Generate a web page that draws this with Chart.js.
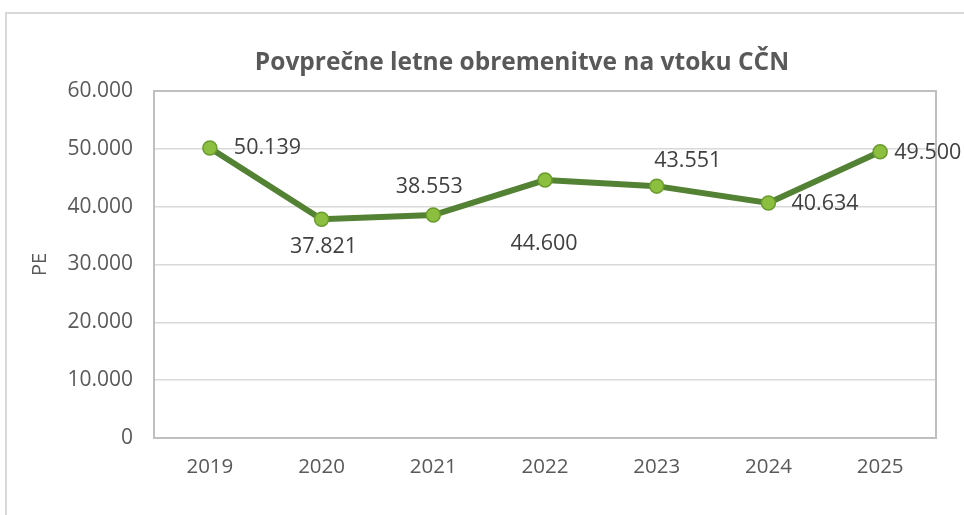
<!DOCTYPE html>
<html>
<head>
<meta charset="utf-8">
<script src="https://cdn.jsdelivr.net/npm/chart.js@4/dist/chart.umd.min.js"></script>
<style>
  body { margin: 0; background: #fff; }
  #okvir {
    position: absolute; left: 5px; top: 12px; width: 964px; height: 515px;
    border-left: 2px solid #d9d9d9; border-top: 2px solid #d9d9d9;
  }
  #wrap { position: absolute; left: 0; top: 0; width: 964px; height: 515px; }
</style>
</head>
<body>
<div id="okvir"></div>
<div id="wrap"><canvas id="graf" width="964" height="515"></canvas></div>
<script>
// ------------------------------------------------------
// Podatki
// ------------------------------------------------------
const leta = ["2019", "2020", "2021", "2022", "2023", "2024", "2025"];
const obremenitve = [50139, 37821, 38553, 44600, 43551, 40634, 49500];
const yTicks = [0, 10000, 20000, 30000, 40000, 50000, 60000];
const naslov = "Povprečne letne obremenitve na vtoku CČN";

// odmiki oznak (dx, dy) in poravnava
const oznakeOdmik = [
  [24, 0, "left"], [2, 28, "center"], [-4, -28, "center"], [-1, 64, "center"],
  [31, -25, "center"], [23, 1, "left"], [14, 1, "left"]
];

function formatPE(v) {
  return v.toLocaleString("de-DE");
}

const siva = "#595959";
const pisava = "'Open Sans', sans-serif";

// okvir grafa, naslov + oznake podatkov
const risanje = {
  id: "risanje",
  beforeDatasetsDraw(chart) {
    const { ctx, chartArea: a } = chart;
    ctx.save();
    ctx.strokeStyle = "#bfbfbf";
    ctx.lineWidth = 2;
    ctx.strokeRect(a.left, a.top, a.right - a.left, a.bottom - a.top);

    // naslov (v Excelu ni centriran na obmocje grafa)
    ctx.font = "bold 24.5px " + pisava;
    ctx.fillStyle = siva;
    ctx.textAlign = "center";
    ctx.textBaseline = "middle";
    ctx.fillText(naslov, chart.width / 2 + 40, a.top - 28);
    ctx.restore();
  },
  afterDatasetsDraw(chart) {
    const { ctx } = chart;
    const meta = chart.getDatasetMeta(0);
    ctx.save();
    ctx.font = "21.5px " + pisava;
    ctx.fillStyle = "#404040";
    ctx.textBaseline = "middle";
    meta.data.forEach((p, i) => {
      const [dx, dy, al] = oznakeOdmik[i];
      ctx.textAlign = al;
      ctx.fillText(formatPE(obremenitve[i]), p.x + dx, p.y + dy);
    });
    ctx.restore();
  }
};

new Chart(document.getElementById("graf"), {
  type: "line",
  data: {
    labels: leta,
    datasets: [{
      data: obremenitve,
      borderColor: "#548235",
      borderWidth: 6,
      pointRadius: 7,
      pointBackgroundColor: "#8cbf3f",
      pointBorderColor: "#6a9b2e",
      pointBorderWidth: 1.5,
      tension: 0
    }]
  },
  options: {
    responsive: false,
    animation: false,
    layout: { padding: { left: 0, right: 28, top: 91, bottom: 0 } },
    plugins: {
      legend: { display: false },
      tooltip: { enabled: false },
      title: { display: false }
    },
    scales: {
      x: {
        offset: true,
        grid: { display: false, drawTicks: false },
        border: { color: "#bfbfbf", width: 2 },
        ticks: { color: siva, font: { family: pisava, size: 20.5 }, padding: 17 },
        afterFit(s) { s.height = 77; }
      },
      y: {
        min: 0,
        max: 60000,
        afterBuildTicks(s) { s.ticks = yTicks.map(v => ({ value: v })); },
        grid: { color: "#d9d9d9", lineWidth: 1.5, drawTicks: false },
        border: { color: "#bfbfbf", width: 2 },
        ticks: {
          color: siva,
          font: { family: pisava, size: 21 },
          padding: 21,
          callback: v => formatPE(v)
        },
        title: {
          display: true,
          text: "PE",
          color: siva,
          font: { family: pisava, size: 20 },
          padding: { top: 28 }
        },
        afterFit(s) { s.width = 154; }
      }
    }
  },
  plugins: [risanje]
});
</script>
</body>
</html>
